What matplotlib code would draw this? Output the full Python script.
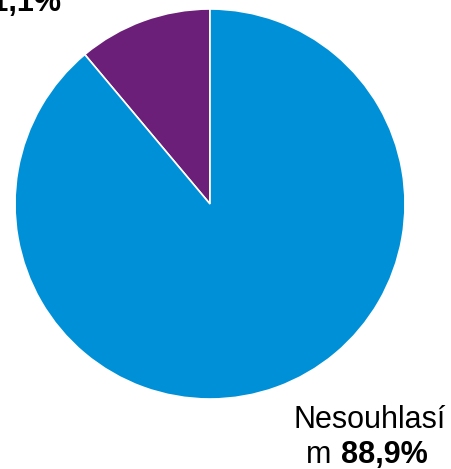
import matplotlib
matplotlib.use("Agg")
import matplotlib.pyplot as plt

labels = ["Souhlasím", "Nesouhlasím"]
values = [11.1, 88.9]
colors = ["#6C1F78", "#0090D7"]

plt.rcParams['font.family'] = ['Liberation Sans', 'DejaVu Sans']

W, H = 452, 469
fig = plt.figure(figsize=(W / 100, H / 100), dpi=100)
ax = fig.add_axes([0, 0, 1, 1])

# pie in pixel coordinates (y axis flipped)
ax.pie(values, colors=colors, startangle=-90, counterclock=False,
       center=(210, 204), radius=195, frame=True,
       wedgeprops={'edgecolor': 'white', 'linewidth': 1.2})
ax.set_xlim(0, W)
ax.set_ylim(H, 0)
ax.set_aspect('equal')
ax.axis('off')

fs = 22
# bottom-right label
ax.text(370, 428, "Nesouhlasí", ha='center', va='baseline', fontsize=fs)
ax.text(331, 463, "m", ha='right', va='baseline', fontsize=fs)
ax.text(341, 463, "88,9%", ha='left', va='baseline', fontsize=fs, fontweight='bold')

# top-left label (mostly off canvas)
ax.text(-14, -24, "Souhlasí", ha='center', va='baseline', fontsize=fs)
ax.text(-40, 11, "m", ha='right', va='baseline', fontsize=fs)
ax.text(61, 11, "11,1%", ha='right', va='baseline', fontsize=fs, fontweight='bold')

fig.savefig("out.png", dpi=100)
